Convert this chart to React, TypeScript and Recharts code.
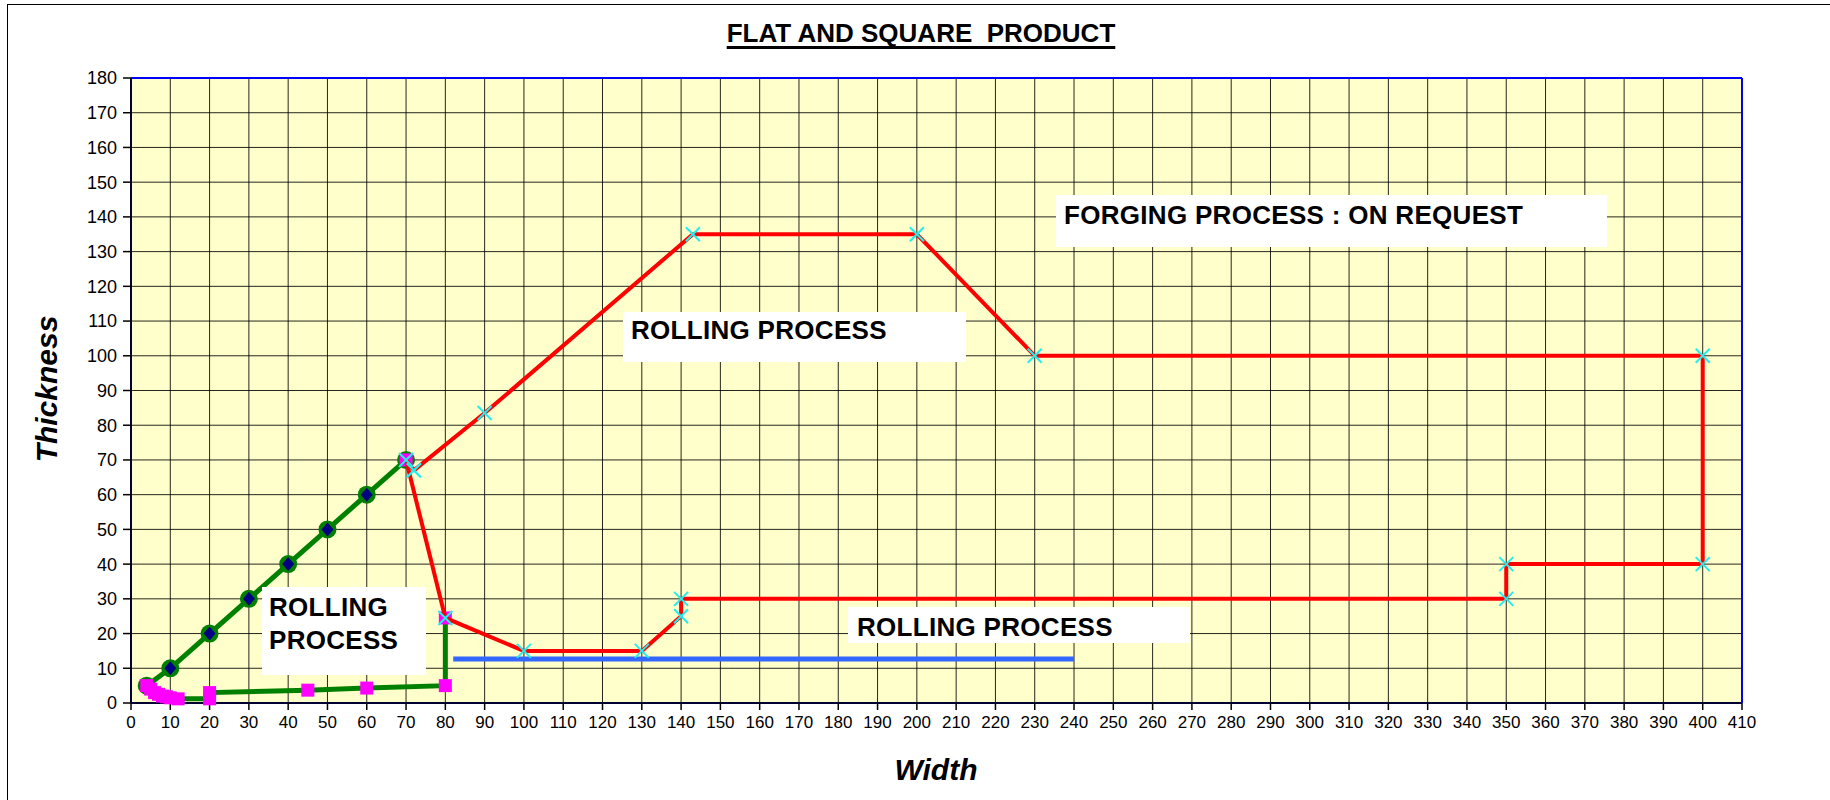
import { ScatterChart, Scatter, XAxis, YAxis, CartesianGrid } from 'recharts'

const FONT = '"Liberation Sans", Arial, sans-serif'

// tick labels
const xMajorTicks = [
  0, 10, 20, 30, 40, 50, 60, 70, 80, 90, 100, 110, 120, 130, 140, 150, 160, 170, 180, 190, 200,
  210, 220, 230, 240, 250, 260, 270, 280, 290, 300, 310, 320, 330, 340, 350, 360, 370, 380, 390, 400, 410,
]
const yMajorTicks = [0, 10, 20, 30, 40, 50, 60, 70, 80, 90, 100, 110, 120, 130, 140, 150, 160, 170, 180]
// minor marks every 2 units, no labels
const xMinorTicks = Array.from({ length: 206 }, (_, i) => i * 2)
const yMinorTicks = Array.from({ length: 91 }, (_, i) => i * 2)

// square product: width = thickness
const squareLine = [
  { x: 4, y: 5 }, { x: 10, y: 10 }, { x: 20, y: 20 }, { x: 30, y: 30 },
  { x: 40, y: 40 }, { x: 50, y: 50 }, { x: 60, y: 60 }, { x: 70, y: 70 },
]

// thin flat limit
const flatLine = [
  { x: 4, y: 5 }, { x: 5, y: 4 }, { x: 6, y: 3 }, { x: 7, y: 2.5 }, { x: 8, y: 2 },
  { x: 9, y: 1.8 }, { x: 10, y: 1.5 }, { x: 12, y: 1.2 }, { x: 20, y: 1.2 }, { x: 20, y: 3 },
  { x: 45, y: 3.7 }, { x: 60, y: 4.3 }, { x: 80, y: 5 }, { x: 80, y: 24.5 },
]

const cornerPoint = [{ x: 70, y: 70 }]

// rolling / forging envelope
const rollingLimit = [
  { x: 72, y: 67 }, { x: 90, y: 83.5 }, { x: 143, y: 135 }, { x: 200, y: 135 }, { x: 230, y: 100 },
  { x: 400, y: 100 }, { x: 400, y: 40 }, { x: 350, y: 40 }, { x: 350, y: 30 }, { x: 140, y: 30 },
  { x: 140, y: 25 }, { x: 130, y: 15 }, { x: 100, y: 15 }, { x: 80, y: 24.5 }, { x: 70, y: 70 },
  { x: 72, y: 67 },
]

const blueLine = [{ x: 82, y: 12.7 }, { x: 240, y: 12.7 }]

const GreenDot = (p: any) => (
  <g>
    <circle cx={p.cx} cy={p.cy} r={9} fill="#008000" />
    <polygon
      points={`${p.cx},${p.cy - 7} ${p.cx + 6},${p.cy} ${p.cx},${p.cy + 7} ${p.cx - 6},${p.cy}`}
      fill="#000080"
    />
  </g>
)

const MagentaSquare = (p: any) => <rect x={p.cx - 6.5} y={p.cy - 6.5} width={13} height={13} fill="#FF00FF" />

const CyanCross = (p: any) => (
  <g stroke="#22EEEE" strokeWidth={2}>
    <line x1={p.cx - 7} y1={p.cy - 7} x2={p.cx + 7} y2={p.cy + 7} />
    <line x1={p.cx - 7} y1={p.cy + 7} x2={p.cx + 7} y2={p.cy - 7} />
  </g>
)

const Empty = () => <g />

const boxStyle: React.CSSProperties = {
  position: 'absolute',
  background: '#fff',
  fontFamily: FONT,
  fontWeight: 'bold',
  fontSize: 26,
  lineHeight: '30px',
  color: '#000',
  boxSizing: 'border-box',
  whiteSpace: 'pre',
  letterSpacing: 0.3,
}

export default function App() {
  return (
    <div style={{ position: 'absolute', left: 0, top: 0, width: 1830, height: 800, background: '#fff', overflow: 'hidden' }}>
      <div style={{ position: 'absolute', left: 7, top: 4, width: 1900, height: 900, borderLeft: '1.5px solid #000', borderTop: '1.5px solid #000' }} />
      <ScatterChart width={1830} height={800} margin={{ top: 78, right: 88, bottom: 57, left: 71 }}>
        <CartesianGrid xAxisId="major" yAxisId="major" stroke="#000" strokeOpacity={0.85} fill="#FFFFCC" fillOpacity={1} />
        <XAxis
          xAxisId="major" dataKey="x" type="number" domain={[0, 410]} ticks={xMajorTicks} interval={0}
          height={40} tickSize={7} tickMargin={6} tickLine={{ stroke: '#000', strokeWidth: 1.5 }}
          axisLine={{ stroke: '#000033', strokeWidth: 2 }}
          tick={{ fontSize: 17, fill: '#000', fontFamily: FONT }}
        />
        {/* mirrored axes take no room: minor marks and the blue frame */}
        <XAxis
          xAxisId="minor" mirror dataKey="x" type="number" domain={[0, 410]} ticks={xMinorTicks} interval={0}
          height={1} tick={Empty} tickSize={5} tickLine={{ stroke: '#000', strokeWidth: 1.2 }} axisLine={false}
        />
        <XAxis
          xAxisId="top" orientation="top" mirror dataKey="x" type="number" domain={[0, 410]} height={1}
          tick={Empty} tickLine={false} axisLine={{ stroke: '#0000FF', strokeWidth: 2 }}
        />
        <YAxis
          yAxisId="major" dataKey="y" type="number" domain={[0, 180]} ticks={yMajorTicks} interval={0}
          width={60} tickSize={8} tickMargin={6} tickLine={{ stroke: '#000', strokeWidth: 1.5 }}
          axisLine={{ stroke: '#000033', strokeWidth: 2 }}
          tick={{ fontSize: 18, fill: '#000', fontFamily: FONT }}
        />
        <YAxis
          yAxisId="minor" mirror dataKey="y" type="number" domain={[0, 180]} ticks={yMinorTicks} interval={0}
          width={1} tick={Empty} tickSize={5} tickLine={{ stroke: '#000', strokeWidth: 1.2 }} axisLine={false}
        />
        <YAxis
          yAxisId="right" orientation="right" mirror dataKey="y" type="number" domain={[0, 180]} width={1}
          tick={Empty} tickLine={false} axisLine={{ stroke: '#0000FF', strokeWidth: 2 }}
        />
        <Scatter
          xAxisId="major" yAxisId="major" data={blueLine} line={{ stroke: '#3366FF', strokeWidth: 5 }}
          lineType="joint" shape={Empty} isAnimationActive={false}
        />
        <Scatter
          xAxisId="major" yAxisId="major" data={squareLine} line={{ stroke: '#008000', strokeWidth: 5 }}
          lineType="joint" shape={GreenDot} isAnimationActive={false}
        />
        <Scatter
          xAxisId="major" yAxisId="major" data={flatLine} line={{ stroke: '#008000', strokeWidth: 5 }}
          lineType="joint" shape={MagentaSquare} isAnimationActive={false}
        />
        <Scatter xAxisId="major" yAxisId="major" data={cornerPoint} shape={MagentaSquare} isAnimationActive={false} />
        <Scatter
          xAxisId="major" yAxisId="major" data={rollingLimit} line={{ stroke: '#FF0000', strokeWidth: 4 }}
          lineType="joint" shape={CyanCross} isAnimationActive={false}
        />
      </ScatterChart>

      <div
        style={{
          position: 'absolute', left: 0, width: 1842, top: 18, textAlign: 'center', fontFamily: FONT,
          fontWeight: 'bold', fontSize: 26, whiteSpace: 'pre', textDecoration: 'underline',
          textDecorationThickness: 3, textUnderlineOffset: 4, textDecorationSkipInk: 'none',
        }}
      >
        FLAT AND SQUARE  PRODUCT
      </div>

      <div
        style={{
          position: 'absolute', left: 47, top: 389, transform: 'translate(-50%, -50%) rotate(-90deg)',
          fontFamily: FONT, fontWeight: 'bold', fontStyle: 'italic', fontSize: 30, whiteSpace: 'pre',
        }}
      >
        Thickness
      </div>
      <div
        style={{
          position: 'absolute', left: 936, top: 770, transform: 'translate(-50%, -50%)',
          fontFamily: FONT, fontWeight: 'bold', fontStyle: 'italic', fontSize: 30, whiteSpace: 'pre',
        }}
      >
        Width
      </div>

      <div style={{ ...boxStyle, left: 1056, top: 195, width: 551, height: 52, paddingLeft: 8, paddingTop: 5 }}>
        FORGING PROCESS : ON REQUEST
      </div>
      <div style={{ ...boxStyle, left: 623, top: 312, width: 343, height: 50, paddingLeft: 8, paddingTop: 3 }}>
        ROLLING PROCESS
      </div>
      <div style={{ ...boxStyle, left: 262, top: 587, width: 164, height: 88, paddingLeft: 7, paddingTop: 4, lineHeight: '33px' }}>
        {'ROLLING\nPROCESS'}
      </div>
      <div style={{ ...boxStyle, left: 848, top: 607, width: 342, height: 36, paddingLeft: 9, paddingTop: 5 }}>
        ROLLING PROCESS
      </div>
    </div>
  )
}
